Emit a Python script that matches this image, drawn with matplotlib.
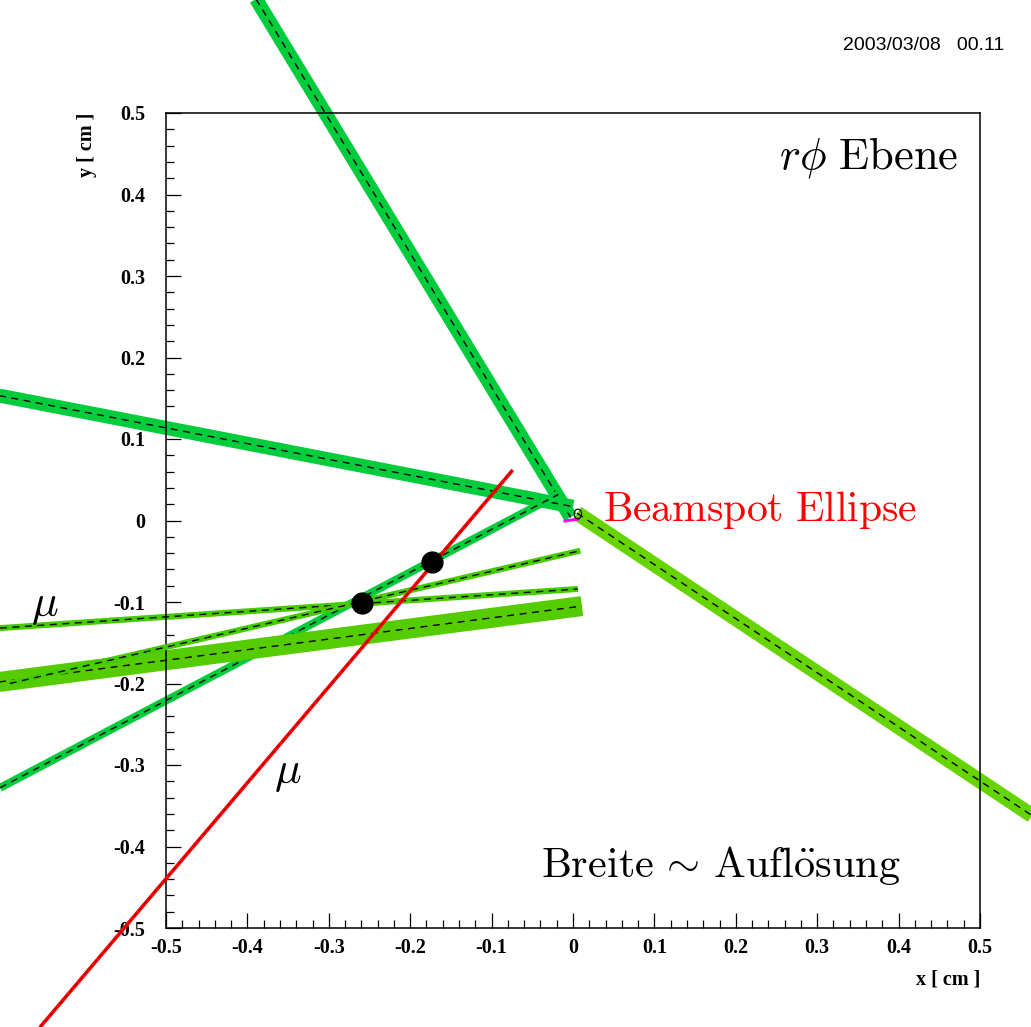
import numpy
import matplotlib
matplotlib.use("Agg")
import matplotlib.pyplot as plt
from matplotlib.patches import Ellipse
from matplotlib.ticker import FixedLocator, FixedFormatter, MultipleLocator

plt.rcParams["mathtext.fontset"] = "cm"

# track end points (x [cm], y [cm])
band_names = ["steep", "upper", "right", "thin_green", "wide", "thin_a", "thin_b"]
band_x0 = [-0.426, -0.750, 0.005, -0.704, -0.750, -0.704, -0.692]
band_y0 = [0.700, 0.162, 0.009, -0.328, -0.204, -0.132, -0.200]
band_x1 = [-0.003, 0.000, 0.600, -0.018, 0.011, 0.006, 0.009]
band_y1 = [0.004, 0.017, -0.386, 0.032, -0.105, -0.084, -0.037]

# muon track
mu_x = [-0.655, -0.074]
mu_y = [-0.622, 0.062]

# vertices
vtx_x = [-0.173, -0.259]
vtx_y = [-0.051, -0.101]

# beamspot
beam_x = 0.006
beam_y = 0.008
beam_w = 0.009
beam_h = 0.012

xticks = [-0.5, -0.4, -0.3, -0.2, -0.1, 0.0, 0.1, 0.2, 0.3, 0.4, 0.5]
xtick_labels = ["-0.5", "-0.4", "-0.3", "-0.2", "-0.1", "0", "0.1", "0.2", "0.3", "0.4", "0.5"]
yticks = xticks
ytick_labels = xtick_labels

# styles (pixel widths -> points)
px = 0.72
band_width = [14 * px, 14 * px, 15 * px, 8 * px, 20 * px, 6 * px, 6 * px]
band_color = ["#00cc3c", "#00cc3c", "#66d400", "#00cc3c", "#55cc00", "#44cc00", "#44cc00"]

fig = plt.figure(figsize=(10.31, 10.27), dpi=100)
ax = fig.add_axes([166 / 1031, 1 - 928 / 1027, 814 / 1031, 815 / 1027])
ax.set_xlim(-0.5, 0.5)
ax.set_ylim(-0.5, 0.5)

for i in range(len(band_names)):
	xs = [band_x0[i], band_x1[i]]
	ys = [band_y0[i], band_y1[i]]
	ax.plot(xs, ys, color=band_color[i], lw=band_width[i], solid_capstyle="butt", clip_on=False, zorder=2 + i * 0.1)
	ax.plot(xs, ys, color="black", lw=1.0, dashes=(5, 4), clip_on=False, zorder=2.05 + i * 0.1)

# muon
ax.plot(mu_x, mu_y, color="#ff0000", lw=2.6, solid_capstyle="butt", clip_on=False, zorder=4)
ax.plot(mu_x, mu_y, color="#600000", lw=0.5, dashes=(6, 5), clip_on=False, zorder=4.1)

ax.plot(vtx_x, vtx_y, "o", color="black", ms=15, clip_on=False, zorder=5)

ax.plot([-0.0098, 0.0061], [-0.0006, 0.0018], color="magenta", lw=2.2, zorder=5)
ax.add_patch(Ellipse((beam_x, beam_y), beam_w, beam_h, fill=False, edgecolor="black", lw=0.8, zorder=6))

# texts
ax.text(0.473, 0.446, r"$r\phi\ \mathrm{Ebene}$", fontsize=32, ha="right", va="center")
ax.text(0.037, 0.013, r"$\mathrm{Beamspot\ Ellipse}$", fontsize=30, color="red", ha="left", va="center")
ax.text(-0.039, -0.423, r"$\mathrm{Breite}\,\sim\,\mathrm{Aufl\ddot{o}sung}$", fontsize=30.5, ha="left", va="center")
ax.text(-0.649, -0.104, r"$\mu$", fontsize=32, ha="center", va="center", clip_on=False)
ax.text(-0.350, -0.309, r"$\mu$", fontsize=32, ha="center", va="center")

fig.text(1004 / 1031, 1 - 45 / 1027, "2003/03/08   00.11", fontsize=14, family="Liberation Sans", ha="right", va="center")

# axes in ROOT style
for side in ["top", "right", "left", "bottom"]:
	ax.spines[side].set_linewidth(1.1)
ax.xaxis.set_major_locator(FixedLocator(xticks))
ax.xaxis.set_major_formatter(FixedFormatter(xtick_labels))
ax.yaxis.set_major_locator(FixedLocator(yticks))
ax.yaxis.set_major_formatter(FixedFormatter(ytick_labels))
ax.xaxis.set_minor_locator(MultipleLocator(0.02))
ax.yaxis.set_minor_locator(MultipleLocator(0.02))
ax.tick_params(which="both", direction="in", top=False, right=False)
ax.tick_params(which="major", length=11, width=0.9)
ax.tick_params(which="minor", length=5.5, width=0.9)
ax.tick_params(axis="x", which="major", pad=7)
ax.tick_params(axis="y", which="major", pad=15)
for lab in ax.get_xticklabels() + ax.get_yticklabels():
	lab.set_family("Liberation Serif")
	lab.set_weight("bold")
	lab.set_fontsize(14.5)

ax.set_xlabel("x [ cm ]", family="Liberation Serif", weight="bold", fontsize=14.5, loc="right")
ax.xaxis.set_label_coords(1.0, -0.0515)
ax.set_ylabel("y [ cm ]", family="Liberation Serif", weight="bold", fontsize=14.5, loc="top")
ax.yaxis.set_label_coords(-0.0848, 1.0)

fig.savefig("out.png", dpi=100)
